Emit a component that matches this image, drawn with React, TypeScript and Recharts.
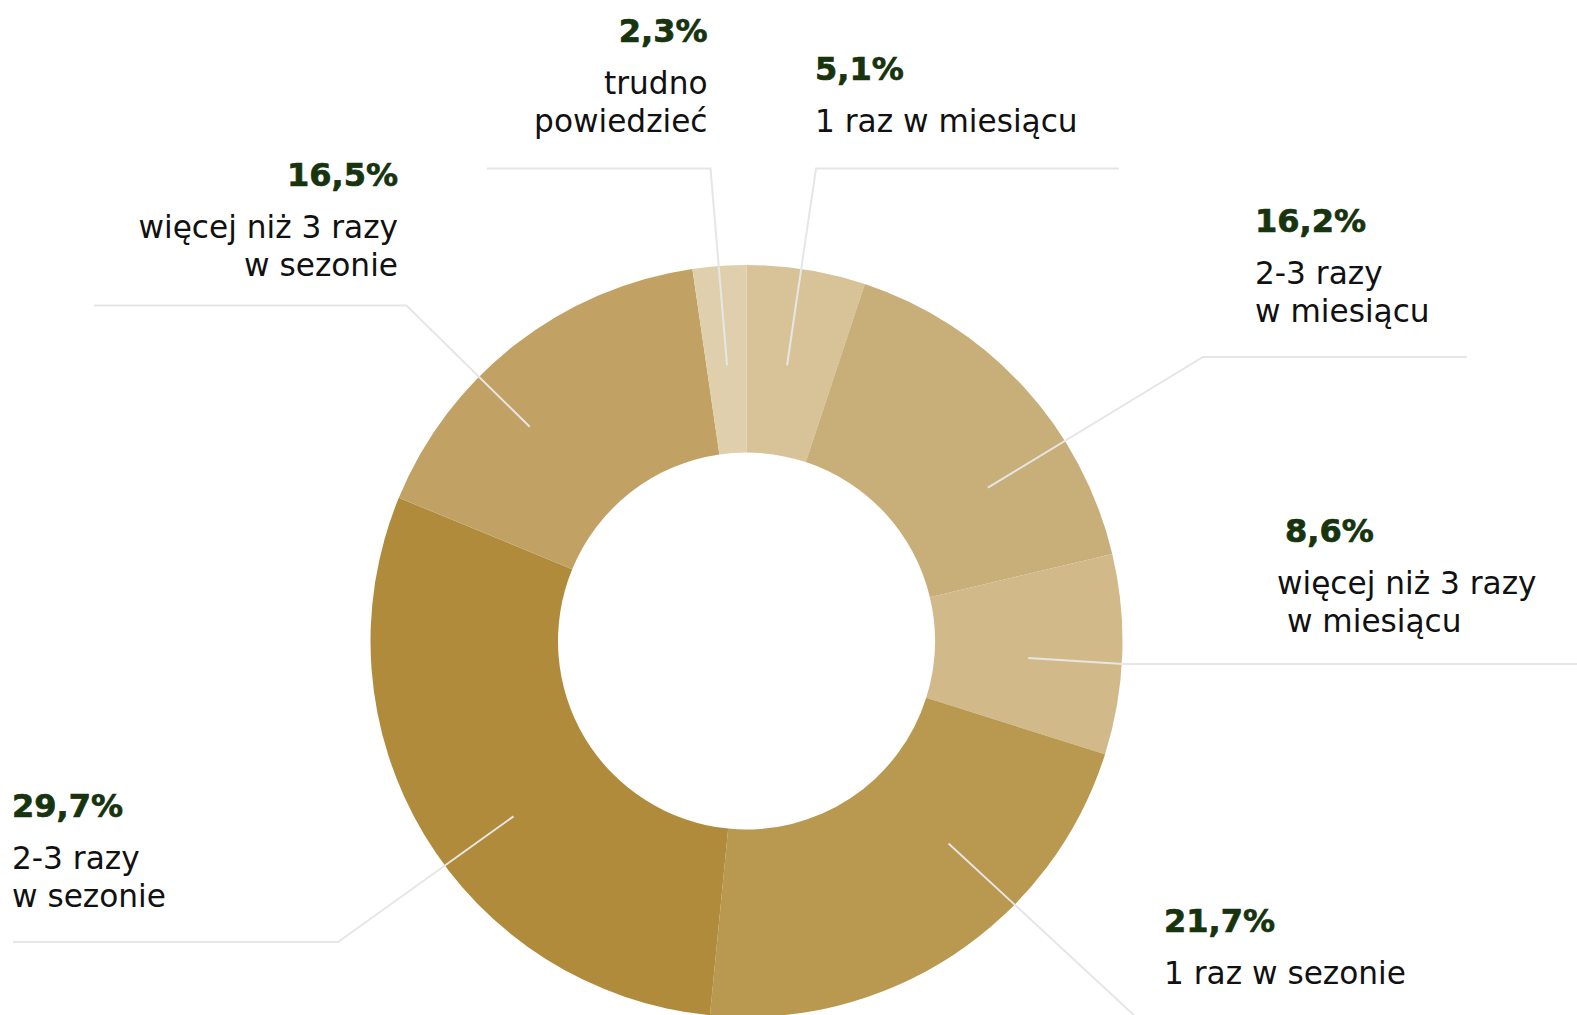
import { PieChart, Pie, Cell } from "recharts";

// share of respondents, clockwise from the top
const CATEGORIES = [
  "1 raz w miesiącu",
  "2-3 razy\nw miesiącu",
  "więcej niż 3 razy\n\u00A0w miesiącu",
  "1 raz w sezonie",
  "2-3 razy\nw sezonie",
  "więcej niż 3 razy\nw sezonie",
  "trudno\npowiedzieć",
];
const SHARES = [5.1, 16.2, 8.6, 21.7, 29.7, 16.5, 2.3];
const COLORS = ["#d8c398", "#c8ae78", "#d1b98a", "#b9984f", "#b08b3c", "#c1a264", "#dfcfad"];

// where each callout sits (turn = degrees off the slice middle, depth = 0..1 across the ring)
const LAYOUT = [
  { turn: -0.8, depth: 0.48, elbow: [816, 168.5], endX: 1119, anchor: "start", x: 815, y: 80 },
  { turn: 10.1, depth: 0.52, elbow: [1203, 357], endX: 1467, anchor: "start", x: 1255, y: 231.5 },
  { turn: 1.4, depth: 0.5, elbow: [1123, 664], endX: 1577, anchor: "start", x: 1285, lineX: 1277, y: 542 },
  { turn: -11.5, depth: 0.52, elbow: [1150, 1030], endX: 1577, anchor: "start", x: 1164, y: 932 },
  { turn: -5.95, depth: 0.55, elbow: [338, 942], endX: 13, anchor: "start", x: 12, y: 816.5 },
  { turn: -7.4, depth: 0.62, elbow: [406.5, 305.5], endX: 94, anchor: "end", x: 398, y: 186 },
  { turn: 0.1, depth: 0.47, elbow: [710.5, 168.5], endX: 487, anchor: "end", x: 707.5, y: 41.5 },
];

const GREEN = "#17340f";
const FONT = "'DejaVu Sans', sans-serif";
const RAD = Math.PI / 180;

const data = CATEGORIES.map((name, i) => ({ name, value: SHARES[i] }));

const fmt = (v: number) => v.toFixed(1).replace(".", ",") + "%";

function Callout(props: any) {
  const { cx, cy, midAngle, innerRadius, outerRadius, index, value } = props;
  const L = LAYOUT[index];
  const a = (midAngle - L.turn) * RAD;
  const r = innerRadius + (outerRadius - innerRadius) * L.depth;
  const sx = cx + r * Math.cos(a);
  const sy = cy - r * Math.sin(a);
  const lines = CATEGORIES[index].split("\n");
  return (
    <g>
      <polyline
        points={`${sx},${sy} ${L.elbow[0]},${L.elbow[1]} ${L.endX},${L.elbow[1]}`}
        fill="none"
        stroke="#e6e6e6"
        strokeWidth={2}
      />
      <text
        x={L.x}
        y={L.y}
        textAnchor={L.anchor}
        fill={GREEN}
        stroke={GREEN}
        strokeWidth={0.7}
        fontFamily={FONT}
        fontWeight={700}
        fontSize={32}
      >
        {fmt(value)}
      </text>
      <text textAnchor={L.anchor} fill="#111" fontFamily={FONT} fontSize={31.2}>
        {lines.map((t, i) => (
          <tspan key={i} x={L.lineX ?? L.x} y={L.y + 52 + i * 38.4}>
            {t}
          </tspan>
        ))}
      </text>
    </g>
  );
}

export default function App() {
  return (
    <div style={{ position: "absolute", left: 0, top: 0, width: 1577, height: 1015, background: "#fff" }}>
      <PieChart width={1577} height={1015} margin={{ top: 0, right: 0, bottom: 0, left: 0 }}>
        <Pie
          data={data}
          dataKey="value"
          nameKey="name"
          cx={746.5}
          cy={641}
          innerRadius={188.5}
          outerRadius={376}
          startAngle={90}
          endAngle={-270}
          stroke="none"
          labelLine={false}
          label={Callout}
          isAnimationActive={false}
        >
          {data.map((d, i) => (
            <Cell key={d.name} fill={COLORS[i]} />
          ))}
        </Pie>
      </PieChart>
    </div>
  );
}
